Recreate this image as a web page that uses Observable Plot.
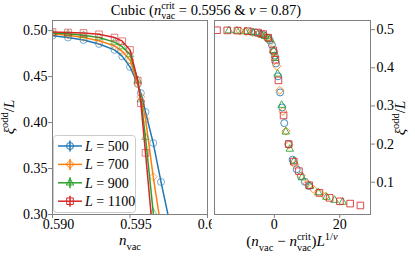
<!DOCTYPE html>
<html><head><meta charset="utf-8">
<script src="https://cdn.jsdelivr.net/npm/d3@7"></script>
<script src="https://cdn.jsdelivr.net/npm/@observablehq/plot@0.6"></script>
<style>
body{margin:0;background:#fff;}
#fig{position:relative;width:415px;height:256px;overflow:hidden;font-family:"Liberation Serif","DejaVu Serif",serif;}
#fig > svg{position:absolute;top:0;}
#fig svg text{font-family:"Liberation Serif","DejaVu Serif",serif;}
</style></head><body><div id="fig"></div>
<script>
// ---- data ----
const nVac = [0.590, 0.591, 0.592, 0.593, 0.594, 0.5945, 0.595, 0.5955, 0.5957, 0.596, 0.5965, 0.597, 0.5975, 0.598, 0.599, 0.600, 0.601, 0.602, 0.603, 0.604];
const sizes = [500, 700, 900, 1100];
const xi500  = [0.4945, 0.4925, 0.4898, 0.4855, 0.4790, 0.4720, 0.4605, 0.4420, 0.4320, 0.4115, 0.3777, 0.3354, 0.2960, 0.2550, 0.2000, 0.1590, 0.1340, 0.1160, 0.1010, 0.0900];
const xi700  = [0.4965, 0.4950, 0.4925, 0.4890, 0.4835, 0.4775, 0.4680, 0.4420, 0.4280, 0.4040, 0.3410, 0.2860, 0.2340, 0.1980, 0.1460, 0.1170, 0.0970, 0.0820, 0.0720, 0.0630];
const xi900  = [0.4975, 0.4965, 0.4950, 0.4925, 0.4875, 0.4825, 0.4740, 0.4460, 0.4250, 0.3840, 0.3020, 0.2320, 0.1870, 0.1550, 0.1120, 0.0900, 0.0730, 0.0610, 0.0530, 0.0480];
const xi1100 = [0.4985, 0.4980, 0.4975, 0.4960, 0.4925, 0.4885, 0.4790, 0.4457, 0.4210, 0.3670, 0.2750, 0.2000, 0.1540, 0.1290, 0.0920, 0.0720, 0.0590, 0.0500, 0.0440, 0.0390];
const nCrit = 0.5956, nu = 0.87;
const colors = ["#1f77b4", "#ff7f0e", "#2ca02c", "#d62728"];
const symbols = ["circle", "diamond2", "triangle2", "square2"];
const leftXTicks = [0.590, 0.595, 0.600];
const leftYTicks = [0.30, 0.35, 0.40, 0.45, 0.50];
const rightXTicks = [0, 20];
const rightYTicks = [0.1, 0.2, 0.3, 0.4, 0.5];

// ---- build ----
const series = [xi500, xi700, xi900, xi1100];
const symR = {circle: 3.5, diamond2: 3.6, triangle2: 3.6, square2: 4.2};
const rows = sizes.map((L, i) => nVac.map((n, j) => ({L, n, xi: series[i][j], s: (n - nCrit) * Math.pow(L, 1 / nu)})));
const gray = "#808080";
const FONT = '"Liberation Serif", "DejaVu Serif", serif';
const baseStyle = {fontFamily: FONT, fontSize: "14px", color: "#000", background: "white"};

const left = Plot.plot({
  width: 212, height: 256, marginLeft: 52, marginRight: 5, marginTop: 20, marginBottom: 42,
  style: baseStyle,
  x: {domain: [0.590, 0.600]},
  y: {domain: [0.30, 0.511]},
  marks: [
    Plot.axisX({ticks: leftXTicks, tickSize: 4, stroke: gray, tickFormat: () => "", label: null}),
    Plot.axisX({ticks: leftXTicks, tickSize: 0, tickPadding: 5, dx: 6, tickFormat: d3.format(".3f"), label: null}),
    Plot.axisY({ticks: leftYTicks, tickSize: 4, tickPadding: 1, stroke: gray, tickFormat: d3.format(".2f"), label: null}),
    ...rows.flatMap((d, i) => [
      Plot.line(d, {x: "n", y: "xi", stroke: colors[i], strokeWidth: 1.5, clip: true}),
      Plot.dot(d, {x: "n", y: "xi", stroke: colors[i], symbol: symbols[i], r: symR[symbols[i]], fill: "none", strokeWidth: 1, strokeOpacity: 0.6, clip: true})
    ]),
    Plot.frame({stroke: gray})
  ]
});
left.style.left = "0px";

const right = Plot.plot({
  width: 203, height: 256, marginLeft: 2, marginRight: 45, marginTop: 20, marginBottom: 42,
  style: baseStyle,
  x: {domain: [-18.3, 29.4]},
  y: {domain: [0.0154, 0.524]},
  marks: [
    Plot.axisX({ticks: rightXTicks, tickSize: 4, tickPadding: 1, stroke: gray, label: null}),
    Plot.axisY({anchor: "right", ticks: rightYTicks, tickSize: 4, tickPadding: 2, stroke: gray, tickFormat: d3.format(".1f"), label: null}),
    ...rows.map((d, i) =>
      Plot.dot(d, {x: "s", y: "xi", stroke: colors[i], symbol: symbols[i], r: symR[symbols[i]], fill: "none", strokeWidth: 1, strokeOpacity: 0.85, clip: true})
    ),
    Plot.frame({stroke: gray})
  ]
});
right.style.left = "212px";

const fig = document.getElementById("fig");
fig.append(left, right);

// ---- overlay: title, axis labels, legend ----
const ov = d3.select(fig).append("svg").attr("width", 415).attr("height", 256)
  .style("left", "0px").style("pointer-events", "none")
  .attr("font-family", FONT).attr("fill", "#000");

function addMath(x, y, fs, parts, rotate) {
  const t = ov.append("text").attr("x", x).attr("y", y).attr("font-size", fs).attr("text-anchor", "middle");
  if (rotate) t.attr("transform", `rotate(-90 ${x} ${y})`);
  let level = 0, pendingDx = 0;
  for (const p of parts) {
    if (p.stack) {
      const sub = t.append("tspan").attr("font-size", fs * 0.7).text(p.stack[0])
        .attr("dy", fs * 0.3 - level).attr("dx", pendingDx);
      const w1 = sub.node().getComputedTextLength();
      const sup = t.append("tspan").attr("font-size", fs * 0.7).text(p.stack[1])
        .attr("dy", -fs * 0.4 - fs * 0.3).attr("dx", -w1);
      const w2 = sup.node().getComputedTextLength();
      level = -fs * 0.4;
      pendingDx = Math.max(0, w1 - w2);
      continue;
    }
    const sp = t.append("tspan").text(p.t);
    if (p.i) sp.attr("font-style", "italic");
    let target = 0, size = fs;
    if (p.sub) { target = fs * 0.3; size = fs * 0.7; }
    if (p.sup) { target = -fs * 0.4; size = fs * 0.7; }
    sp.attr("font-size", size).attr("dy", target - level);
    if (pendingDx) sp.attr("dx", pendingDx);
    pendingDx = 0;
    level = target;
  }
  return t;
}

addMath(206, 15, 14.5, [{t: "Cubic ("}, {t: "n", i: 1}, {stack: ["vac", "crit"]}, {t: " = 0.5956 & "}, {t: "ν", i: 1}, {t: " = 0.87)"}]);
addMath(130, 245, 15, [{t: "n", i: 1}, {t: "vac", sub: 1}]);
addMath(292, 246, 15, [{t: "("}, {t: "n", i: 1}, {t: "vac", sub: 1}, {t: " − "}, {t: "n", i: 1}, {stack: ["vac", "crit"]}, {t: ")"}, {t: "L", i: 1}, {t: "1/", sup: 1}, {t: "ν", sup: 1, i: 1}]);
const yParts = [{t: "ξ", i: 1}, {t: "odd", sup: 1}, {t: "/"}, {t: "L", i: 1}];
addMath(14, 117, 15, yParts, true);
addMath(405, 118, 15, yParts, true);

// legend
const lg = ov.append("g").attr("transform", "translate(53,135)");
lg.append("rect").attr("x", 0.5).attr("y", 0.5).attr("width", 82).attr("height", 77).attr("rx", 3)
  .attr("fill", "white").attr("fill-opacity", 0.8).attr("stroke", "#cccccc");
const d3sym = {circle: d3.symbolCircle, diamond2: d3.symbolDiamond2, triangle2: d3.symbolTriangle2, square2: d3.symbolSquare2};
sizes.forEach((L, i) => {
  const y = 11 + i * 18.4;
  const g = lg.append("g").attr("transform", `translate(0,${y})`);
  g.append("line").attr("x1", 5).attr("x2", 29).attr("y1", 0).attr("y2", 0).attr("stroke", colors[i]).attr("stroke-width", 1.5);
  g.append("line").attr("x1", 17).attr("x2", 17).attr("y1", -5.5).attr("y2", 5.5).attr("stroke", colors[i]).attr("stroke-width", 1.5);
  const r = symR[symbols[i]];
  g.append("path").attr("transform", "translate(17,0)").attr("d", d3.symbol(d3sym[symbols[i]], r * r * Math.PI)())
    .attr("fill", "none").attr("stroke", colors[i]).attr("stroke-width", 1);
  const t = g.append("text").attr("x", 32).attr("y", 5).attr("font-size", 14);
  t.append("tspan").attr("font-style", "italic").text("L");
  t.append("tspan").text(" = " + L);
});
</script></body></html>
